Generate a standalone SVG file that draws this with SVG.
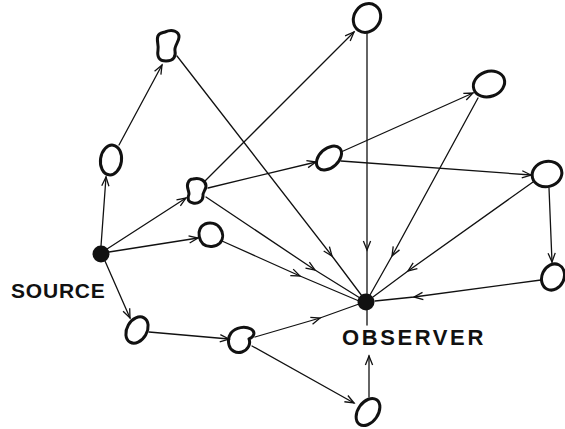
<svg xmlns="http://www.w3.org/2000/svg" width="565" height="429" viewBox="0 0 565 429">
<defs>
<style>
.edge{fill:none;stroke:#111;stroke-width:1.3;stroke-linecap:round}
.end{marker-end:url(#arr)}
.mid{marker-mid:url(#arr)}
.blob{fill:none;stroke:#111;stroke-width:3;stroke-linejoin:round}
.dot{fill:#111}
.lbl{font-family:"Liberation Sans",Arial,sans-serif;font-weight:bold;fill:#111}
</style>
<marker id="arr" markerUnits="userSpaceOnUse" markerWidth="14" markerHeight="10" viewBox="-11 -5 13 10" refX="0" refY="0" orient="auto">
<path d="M-9,-3.6 L0,0 L-9,3.6" fill="none" stroke="#111" stroke-width="1.3"/>
</marker>
</defs>
<rect width="565" height="429" fill="#fff"/>
<g id="connectors">
<path class="edge end" d="M101,246 L106,177"/>
<path class="edge end" d="M119,145 L162,65"/>
<path class="edge end" d="M107,249 L186,198"/>
<path class="edge end" d="M109,252 L198,238"/>
<path class="edge end" d="M105,261 L130,318"/>
<path class="edge end" d="M149,332 L229,339"/>
<path class="edge mid" d="M255,337 L320,318 L359,304"/>
<path class="edge end" d="M252,346 L354,403"/>
<path class="edge end" d="M369,397 L369,356"/>
<path class="edge" d="M367,310 L367,325"/>
<path class="edge end" d="M205,181 L354,32"/>
<path class="edge end" d="M208,188 L316,162"/>
<path class="edge mid" d="M206,197 L315,270 L360,298"/>
<path class="edge mid" d="M222,241 L300,276 L359,301"/>
<path class="edge mid" d="M177,56 L332,256 L362,296"/>
<path class="edge mid" d="M367,32 L367,250 L367,294"/>
<path class="edge end" d="M341,152 L473,93"/>
<path class="edge end" d="M341,161 L531,175"/>
<path class="edge mid" d="M478,98 L392,256 L370,295"/>
<path class="edge mid" d="M533,182 L408,271 L373,297"/>
<path class="edge end" d="M549,188 L552,262"/>
<path class="edge mid" d="M541,280 L414,297 L375,301"/>
</g>
<g id="source"><circle class="dot" cx="101" cy="254" r="8.5"/><text class="lbl" x="11" y="298" font-size="21" letter-spacing="0.8">SOURCE</text></g>
<g id="observer"><circle class="dot" cx="366" cy="302" r="8.5"/><text class="lbl" x="342" y="345" font-size="22" letter-spacing="2.6">OBSERVER</text></g>
<g id="nA"><ellipse class="blob" cx="111" cy="160" rx="10.5" ry="15" transform="rotate(8 111 160)"/></g>
<g id="nB"><path class="blob" d="M165,32 C172,29 179,31 179,37 C179,42 174,46 175,51 C176,56 174,61 166,61 C159,61 157,57 158,50 C159,45 156,40 158,36 C159,33 162,33 165,32 Z"/></g>
<g id="nC"><path class="blob" d="M193,179 C200,177 206,181 206,186 C206,190 202,193 203,196 C203,201 198,204 193,203 C188,202 187,199 189,194 C189,190 186,187 188,183 C189,180 191,179 193,179 Z"/></g>
<g id="nD"><path class="blob" d="M205,224 C210,222 217,223 220,228 C223,232 224,238 220,243 C216,247 208,248 203,244 C199,240 198,233 200,229 C201,226 203,225 205,224 Z"/></g>
<g id="nE"><ellipse class="blob" cx="367" cy="18" rx="13" ry="15" transform="rotate(35 367 18)"/></g>
<g id="nF"><ellipse class="blob" cx="489" cy="84" rx="16" ry="12.5" transform="rotate(-20 489 84)"/></g>
<g id="nG"><ellipse class="blob" cx="329" cy="158" rx="14.5" ry="9.5" transform="rotate(-42 329 158)"/></g>
<g id="nH"><ellipse class="blob" cx="547" cy="174" rx="15" ry="12.5" transform="rotate(-15 547 174)"/></g>
<g id="nI"><ellipse class="blob" cx="553" cy="277" rx="11" ry="13.5" transform="rotate(25 553 277)"/></g>
<g id="nJ"><ellipse class="blob" cx="137" cy="330" rx="10" ry="14" transform="rotate(30 137 330)"/></g>
<g id="nK"><path class="blob" d="M231,333 C236,327 245,326 251,329 C256,332 254,337 249,339 C251,344 248,350 242,352 C236,354 230,350 229,345 C228,341 228,337 231,333 Z"/></g>
<g id="nL"><ellipse class="blob" cx="368" cy="412" rx="10" ry="15" transform="rotate(35 368 412)"/></g>
</svg>
